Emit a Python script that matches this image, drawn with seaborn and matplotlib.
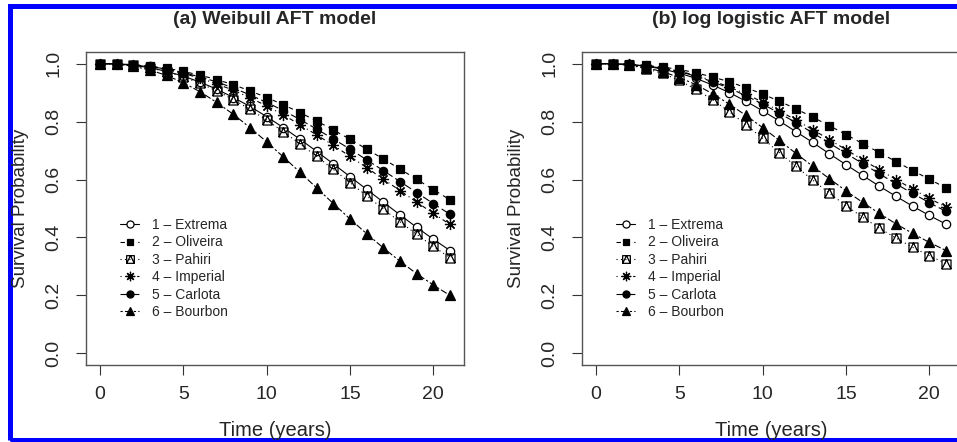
import numpy as np
import pandas as pd
import matplotlib
matplotlib.use("Agg")
import matplotlib.pyplot as plt
import seaborn as sns
from matplotlib.path import Path
from matplotlib.patches import Rectangle

# ---- data (survival probability at each year) ----
years = list(range(22))
cultivars = ["1 \u2013 Extrema", "2 \u2013 Oliveira", "3 \u2013 Pahiri",
             "4 \u2013 Imperial", "5 \u2013 Carlota", "6 \u2013 Bourbon"]

weibull_extrema = [1.0, .999, .994, .986, .973, .957, .936, .912, .883, .852, .817,
                   .779, .739, .697, .654, .610, .566, .522, .478, .435, .394, .355]
weibull_oliveira = [1.0, .999, .996, .991, .984, .973, .960, .945, .927, .906, .883,
                    .858, .831, .802, .771, .739, .705, .671, .636, .601, .565, .530]
weibull_pahiri = [1.0, .999, .994, .985, .972, .954, .932, .906, .876, .842, .805,
                  .765, .723, .680, .635, .589, .544, .498, .454, .411, .369, .330]
weibull_imperial = [1.0, .999, .995, .989, .979, .966, .950, .930, .908, .882, .854,
                    .823, .789, .754, .718, .680, .641, .601, .562, .522, .483, .445]
weibull_carlota = [1.0, .999, .996, .990, .981, .969, .954, .937, .916, .892, .866,
                   .838, .807, .774, .740, .705, .668, .631, .593, .555, .517, .480]
weibull_bourbon = [1.0, .998, .991, .978, .959, .934, .903, .866, .825, .779, .730,
                   .678, .625, .571, .517, .464, .413, .364, .318, .275, .236, .200]

loglog_extrema = [1.0, .999, .997, .991, .981, .967, .949, .926, .900, .870, .837,
                  .802, .765, .728, .689, .651, .614, .577, .542, .508, .476, .446]
loglog_oliveira = [1.0, 1.0, .998, .994, .988, .980, .968, .954, .937, .917, .895,
                   .870, .844, .815, .786, .755, .724, .693, .662, .631, .601, .571]
loglog_pahiri = [1.0, .999, .994, .983, .966, .942, .911, .875, .834, .789, .742,
                 .693, .645, .598, .553, .510, .470, .432, .398, .366, .337, .310]
loglog_imperial = [1.0, .999, .997, .992, .985, .974, .959, .941, .919, .895, .867,
                   .837, .805, .772, .738, .703, .668, .634, .600, .567, .535, .505]
loglog_carlota = [1.0, .999, .997, .992, .984, .972, .957, .937, .915, .889, .860,
                  .829, .796, .761, .726, .690, .655, .620, .585, .552, .520, .490]
loglog_bourbon = [1.0, .999, .995, .986, .972, .952, .927, .896, .860, .821, .779,
                  .735, .690, .646, .603, .561, .521, .483, .447, .414, .383, .355]

panels = [
    ("(a) Weibull AFT model", [weibull_extrema, weibull_oliveira, weibull_pahiri,
                               weibull_imperial, weibull_carlota, weibull_bourbon]),
    ("(b) log logistic AFT model", [loglog_extrema, loglog_oliveira, loglog_pahiri,
                                    loglog_imperial, loglog_carlota, loglog_bourbon]),
]

# R's pch 14: square with a triangle inside
sq_tri = Path([(-1, -1), (1, -1), (1, 1), (-1, 1), (-1, -1),
               (-1, -1), (0, 1), (1, -1)],
              [Path.MOVETO, Path.LINETO, Path.LINETO, Path.LINETO, Path.CLOSEPOLY,
               Path.MOVETO, Path.LINETO, Path.LINETO])

styles = [
    dict(marker="o", ms=6, mfc="white", dashes=None),
    dict(marker="s", ms=5.5, mfc="black", dashes=(4, 4)),
    dict(marker=sq_tri, ms=6.5, mfc="none", dashes=(1, 3)),
    dict(marker=(8, 2, 0), ms=8, mfc="black", dashes=(1, 3, 4, 3)),
    dict(marker="o", ms=6, mfc="black", dashes=(7, 3)),
    dict(marker="^", ms=6.5, mfc="black", dashes=(2, 2, 6, 2)),
]

sns.set_style("white")
plt.rcParams["font.family"] = ["Liberation Sans", "DejaVu Sans"]

fig = plt.figure(figsize=(9.57, 4.42), dpi=100)
ax_w = 378 / 957
# the right panel runs past the figure edge, as in the cropped original
positions = [[86 / 957, 77 / 442, ax_w, 313 / 442],
             [582 / 957, 77 / 442, ax_w, 313 / 442]]

for pos, (title, series) in zip(positions, panels):
    ax = fig.add_axes(pos)
    for name, vals, st in zip(cultivars, series, styles):
        df = pd.DataFrame({"t": years, "s": vals})
        sns.lineplot(data=df, x="t", y="s", ax=ax, color="black", lw=0.8,
                     marker=st["marker"], markersize=st["ms"],
                     markerfacecolor=st["mfc"], markeredgecolor="black",
                     markeredgewidth=0.9, label=name)
        line = ax.lines[-1]
        if st["dashes"] is not None:
            line.set_dashes(st["dashes"])

    ax.set_xlim(-0.84, 21.84)
    ax.set_ylim(-0.04, 1.04)
    ax.set_xticks([0, 5, 10, 15, 20])
    ax.set_yticks([0.0, 0.2, 0.4, 0.6, 0.8, 1.0])
    ax.set_yticklabels(["0.0", "0.2", "0.4", "0.6", "0.8", "1.0"])
    ax.tick_params(axis="both", direction="out", length=7, width=0.8,
                   color="#333333", labelsize=14, pad=8, left=True, bottom=True)
    ax.tick_params(axis="y", labelrotation=90, pad=10)
    for lbl in ax.get_yticklabels():
        lbl.set_va("center")
    for sp in ax.spines.values():
        sp.set_color("#555555")
        sp.set_linewidth(1.0)
        sp.set_visible(True)

    ax.set_title(title, fontsize=14, fontweight="bold", pad=20)
    ax.set_xlabel("Time (years)", fontsize=14.5, labelpad=13)
    ax.set_ylabel("Survival Probability", fontsize=13.5, labelpad=12)

    ax.legend(loc="upper left", bbox_to_anchor=(0.09, 0.47), frameon=False,
              fontsize=10, handlelength=1.4, handletextpad=0.9, markerscale=0.85,
              labelspacing=0.25, borderpad=0, borderaxespad=0)

# blue frame around the figure (right side cropped off in the original)
fig.add_artist(Rectangle((9.5 / 957, 2.5 / 442), 1.2, 434 / 442,
                         transform=fig.transFigure, fill=False,
                         edgecolor="#0000ff", lw=3.6, zorder=-1))

fig.savefig("out.png", dpi=100)
